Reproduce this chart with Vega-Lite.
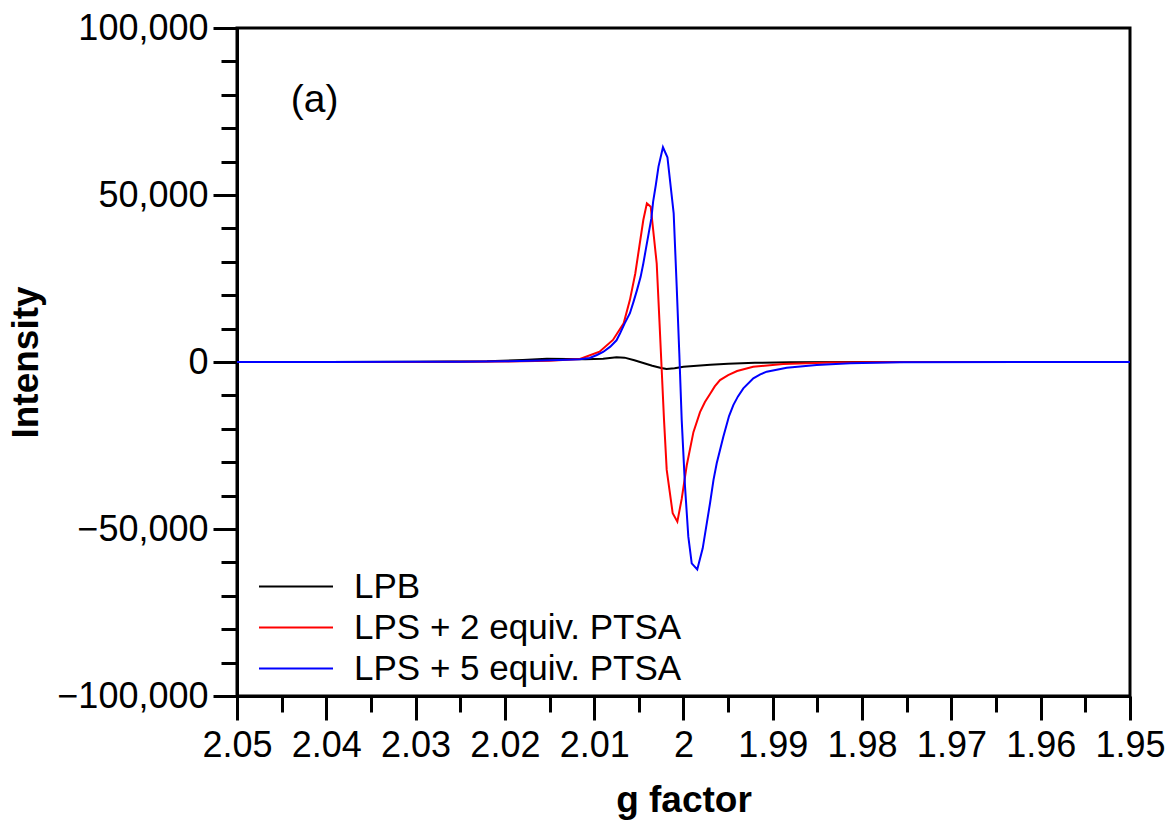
{
  "$schema": "https://vega.github.io/schema/vega-lite/v6.json",
  "width": 893,
  "height": 668,
  "autosize": {"type": "none"},
  "padding": {"left": 237, "top": 28, "right": 40, "bottom": 127},
  "config": {
    "view": {"stroke": "black", "strokeWidth": 3},
    "font": "Liberation Sans",
    "axis": {
      "grid": false,
      "domainColor": "black",
      "domainWidth": 3,
      "tickColor": "black",
      "tickWidth": 3,
      "labelColor": "black",
      "titleColor": "black",
      "labelFont": "Liberation Sans",
      "titleFont": "Liberation Sans",
      "labelFontSize": 36,
      "titleFontSize": 37,
      "titleFontWeight": "bold"
    }
  },
  "datasets": {
    "spectra": [
      {"series": "LPB", "g": 2.05, "intensity": 0},
      {"series": "LPB", "g": 2.04, "intensity": 0},
      {"series": "LPB", "g": 2.03, "intensity": 50},
      {"series": "LPB", "g": 2.022, "intensity": 200},
      {"series": "LPB", "g": 2.018, "intensity": 600},
      {"series": "LPB", "g": 2.0153, "intensity": 1000},
      {"series": "LPB", "g": 2.013, "intensity": 900},
      {"series": "LPB", "g": 2.011, "intensity": 800},
      {"series": "LPB", "g": 2.009, "intensity": 1000},
      {"series": "LPB", "g": 2.0075, "intensity": 1400},
      {"series": "LPB", "g": 2.0066, "intensity": 1300},
      {"series": "LPB", "g": 2.0055, "intensity": 500},
      {"series": "LPB", "g": 2.0045, "intensity": -300},
      {"series": "LPB", "g": 2.0035, "intensity": -1100},
      {"series": "LPB", "g": 2.0025, "intensity": -1800},
      {"series": "LPB", "g": 2.0019, "intensity": -2100},
      {"series": "LPB", "g": 2.001, "intensity": -1900},
      {"series": "LPB", "g": 2.0, "intensity": -1400},
      {"series": "LPB", "g": 1.9985, "intensity": -1100},
      {"series": "LPB", "g": 1.997, "intensity": -800},
      {"series": "LPB", "g": 1.995, "intensity": -500},
      {"series": "LPB", "g": 1.992, "intensity": -250},
      {"series": "LPB", "g": 1.988, "intensity": -100},
      {"series": "LPB", "g": 1.98, "intensity": 0},
      {"series": "LPB", "g": 1.95, "intensity": 0},

      {"series": "LPS + 2 equiv. PTSA", "g": 2.05, "intensity": 0},
      {"series": "LPS + 2 equiv. PTSA", "g": 2.03, "intensity": 30},
      {"series": "LPS + 2 equiv. PTSA", "g": 2.02, "intensity": 150},
      {"series": "LPS + 2 equiv. PTSA", "g": 2.015, "intensity": 350},
      {"series": "LPS + 2 equiv. PTSA", "g": 2.0116, "intensity": 900},
      {"series": "LPS + 2 equiv. PTSA", "g": 2.0094, "intensity": 3100},
      {"series": "LPS + 2 equiv. PTSA", "g": 2.0079, "intensity": 6600},
      {"series": "LPS + 2 equiv. PTSA", "g": 2.0067, "intensity": 11600},
      {"series": "LPS + 2 equiv. PTSA", "g": 2.006, "intensity": 18600},
      {"series": "LPS + 2 equiv. PTSA", "g": 2.0054, "intensity": 26500},
      {"series": "LPS + 2 equiv. PTSA", "g": 2.00495, "intensity": 34500},
      {"series": "LPS + 2 equiv. PTSA", "g": 2.0045, "intensity": 42500},
      {"series": "LPS + 2 equiv. PTSA", "g": 2.0041, "intensity": 47500},
      {"series": "LPS + 2 equiv. PTSA", "g": 2.00367, "intensity": 46500},
      {"series": "LPS + 2 equiv. PTSA", "g": 2.003, "intensity": 29500},
      {"series": "LPS + 2 equiv. PTSA", "g": 2.0027, "intensity": 12600},
      {"series": "LPS + 2 equiv. PTSA", "g": 2.00244, "intensity": -2400},
      {"series": "LPS + 2 equiv. PTSA", "g": 2.00218, "intensity": -17400},
      {"series": "LPS + 2 equiv. PTSA", "g": 2.00188, "intensity": -32300},
      {"series": "LPS + 2 equiv. PTSA", "g": 2.00121, "intensity": -45300},
      {"series": "LPS + 2 equiv. PTSA", "g": 2.00069, "intensity": -47800},
      {"series": "LPS + 2 equiv. PTSA", "g": 2.0002, "intensity": -41000},
      {"series": "LPS + 2 equiv. PTSA", "g": 1.99964, "intensity": -31000},
      {"series": "LPS + 2 equiv. PTSA", "g": 1.99889, "intensity": -21000},
      {"series": "LPS + 2 equiv. PTSA", "g": 1.99815, "intensity": -15000},
      {"series": "LPS + 2 equiv. PTSA", "g": 1.9976, "intensity": -12000},
      {"series": "LPS + 2 equiv. PTSA", "g": 1.99703, "intensity": -9600},
      {"series": "LPS + 2 equiv. PTSA", "g": 1.9965, "intensity": -7300},
      {"series": "LPS + 2 equiv. PTSA", "g": 1.99591, "intensity": -5400},
      {"series": "LPS + 2 equiv. PTSA", "g": 1.995, "intensity": -3900},
      {"series": "LPS + 2 equiv. PTSA", "g": 1.994, "intensity": -2700},
      {"series": "LPS + 2 equiv. PTSA", "g": 1.9922, "intensity": -1400},
      {"series": "LPS + 2 equiv. PTSA", "g": 1.98883, "intensity": -600},
      {"series": "LPS + 2 equiv. PTSA", "g": 1.9835, "intensity": -150},
      {"series": "LPS + 2 equiv. PTSA", "g": 1.975, "intensity": 0},
      {"series": "LPS + 2 equiv. PTSA", "g": 1.95, "intensity": 0},

      {"series": "LPS + 5 equiv. PTSA", "g": 2.05, "intensity": 0},
      {"series": "LPS + 5 equiv. PTSA", "g": 2.04, "intensity": 0},
      {"series": "LPS + 5 equiv. PTSA", "g": 2.03, "intensity": 50},
      {"series": "LPS + 5 equiv. PTSA", "g": 2.025, "intensity": 100},
      {"series": "LPS + 5 equiv. PTSA", "g": 2.02, "intensity": 200},
      {"series": "LPS + 5 equiv. PTSA", "g": 2.017, "intensity": 350},
      {"series": "LPS + 5 equiv. PTSA", "g": 2.015, "intensity": 500},
      {"series": "LPS + 5 equiv. PTSA", "g": 2.013, "intensity": 650},
      {"series": "LPS + 5 equiv. PTSA", "g": 2.0116, "intensity": 800},
      {"series": "LPS + 5 equiv. PTSA", "g": 2.0105, "intensity": 1200},
      {"series": "LPS + 5 equiv. PTSA", "g": 2.0097, "intensity": 2100},
      {"series": "LPS + 5 equiv. PTSA", "g": 2.009, "intensity": 3000},
      {"series": "LPS + 5 equiv. PTSA", "g": 2.0082, "intensity": 4600},
      {"series": "LPS + 5 equiv. PTSA", "g": 2.0075, "intensity": 6500},
      {"series": "LPS + 5 equiv. PTSA", "g": 2.0071, "intensity": 8600},
      {"series": "LPS + 5 equiv. PTSA", "g": 2.0066, "intensity": 11500},
      {"series": "LPS + 5 equiv. PTSA", "g": 2.006, "intensity": 14600},
      {"series": "LPS + 5 equiv. PTSA", "g": 2.0056, "intensity": 18000},
      {"series": "LPS + 5 equiv. PTSA", "g": 2.0052, "intensity": 21600},
      {"series": "LPS + 5 equiv. PTSA", "g": 2.0048, "intensity": 25500},
      {"series": "LPS + 5 equiv. PTSA", "g": 2.0045, "intensity": 29500},
      {"series": "LPS + 5 equiv. PTSA", "g": 2.0042, "intensity": 34000},
      {"series": "LPS + 5 equiv. PTSA", "g": 2.0039, "intensity": 38500},
      {"series": "LPS + 5 equiv. PTSA", "g": 2.0036, "intensity": 43000},
      {"series": "LPS + 5 equiv. PTSA", "g": 2.0034, "intensity": 48000},
      {"series": "LPS + 5 equiv. PTSA", "g": 2.0031, "intensity": 53000},
      {"series": "LPS + 5 equiv. PTSA", "g": 2.0028, "intensity": 58500},
      {"series": "LPS + 5 equiv. PTSA", "g": 2.0023, "intensity": 64300},
      {"series": "LPS + 5 equiv. PTSA", "g": 2.0018, "intensity": 61300},
      {"series": "LPS + 5 equiv. PTSA", "g": 2.0011, "intensity": 44500},
      {"series": "LPS + 5 equiv. PTSA", "g": 2.00076, "intensity": 22500},
      {"series": "LPS + 5 equiv. PTSA", "g": 2.00047, "intensity": 2600},
      {"series": "LPS + 5 equiv. PTSA", "g": 2.0002, "intensity": -17400},
      {"series": "LPS + 5 equiv. PTSA", "g": 1.99983, "intensity": -37300},
      {"series": "LPS + 5 equiv. PTSA", "g": 1.99946, "intensity": -52300},
      {"series": "LPS + 5 equiv. PTSA", "g": 1.99908, "intensity": -60300},
      {"series": "LPS + 5 equiv. PTSA", "g": 1.99846, "intensity": -62100},
      {"series": "LPS + 5 equiv. PTSA", "g": 1.99785, "intensity": -55800},
      {"series": "LPS + 5 equiv. PTSA", "g": 1.99703, "intensity": -42300},
      {"series": "LPS + 5 equiv. PTSA", "g": 1.99664, "intensity": -35300},
      {"series": "LPS + 5 equiv. PTSA", "g": 1.99628, "intensity": -30300},
      {"series": "LPS + 5 equiv. PTSA", "g": 1.99554, "intensity": -22400},
      {"series": "LPS + 5 equiv. PTSA", "g": 1.9949, "intensity": -16200},
      {"series": "LPS + 5 equiv. PTSA", "g": 1.99442, "intensity": -12900},
      {"series": "LPS + 5 equiv. PTSA", "g": 1.9939, "intensity": -10300},
      {"series": "LPS + 5 equiv. PTSA", "g": 1.9933, "intensity": -7900},
      {"series": "LPS + 5 equiv. PTSA", "g": 1.99218, "intensity": -4900},
      {"series": "LPS + 5 equiv. PTSA", "g": 1.9914, "intensity": -3700},
      {"series": "LPS + 5 equiv. PTSA", "g": 1.99068, "intensity": -2900},
      {"series": "LPS + 5 equiv. PTSA", "g": 1.98844, "intensity": -1700},
      {"series": "LPS + 5 equiv. PTSA", "g": 1.98509, "intensity": -900},
      {"series": "LPS + 5 equiv. PTSA", "g": 1.98135, "intensity": -400},
      {"series": "LPS + 5 equiv. PTSA", "g": 1.97576, "intensity": -100},
      {"series": "LPS + 5 equiv. PTSA", "g": 1.96, "intensity": 0},
      {"series": "LPS + 5 equiv. PTSA", "g": 1.95, "intensity": 0}
    ]
  },
  "layer": [
    {
      "data": {"name": "spectra"},
      "mark": {"type": "line", "strokeWidth": 2},
      "encoding": {
        "x": {
          "field": "g",
          "type": "quantitative",
          "scale": {"domain": [1.95, 2.05], "reverse": true, "nice": false, "zero": false},
          "axis": {
            "orient": "bottom",
            "values": [2.05, 2.04, 2.03, 2.02, 2.01, 2.0, 1.99, 1.98, 1.97, 1.96, 1.95],
            "format": ".2~f",
            "tickSize": 24,
            "labelPadding": 8,
            "labelFlush": false,
            "labelOverlap": false,
            "title": "g factor",
            "titlePadding": 19
          }
        },
        "y": {
          "field": "intensity",
          "type": "quantitative",
          "scale": {"domain": [-100000, 100000], "nice": false},
          "axis": {
            "orient": "left",
            "values": [-100000, -50000, 0, 50000, 100000],
            "format": ",.0f",
            "tickSize": 24,
            "labelPadding": 5,
            "labelFlush": false,
            "labelOverlap": false,
            "title": "Intensity",
            "titlePadding": 11
          }
        },
        "color": {
          "field": "series",
          "type": "nominal",
          "scale": {
            "domain": ["LPB", "LPS + 2 equiv. PTSA", "LPS + 5 equiv. PTSA"],
            "range": ["#000000", "#ff0000", "#0000ff"]
          },
          "legend": {
            "orient": "none",
            "legendX": 21,
            "legendY": 538,
            "title": null,
            "padding": 0,
            "symbolType": "stroke",
            "symbolSize": 5476,
            "symbolStrokeWidth": 2,
            "clipHeight": 41,
            "labelFont": "Liberation Sans",
            "labelFontSize": 35,
            "labelColor": "black",
            "labelOffset": 20,
            "rowPadding": 0,
            "labelLimit": 600
          }
        }
      }
    },
    {
      "data": {"name": "spectra"},
      "mark": {"type": "line", "strokeOpacity": 0},
      "encoding": {
        "x": {
          "field": "g",
          "type": "quantitative",
          "axis": {
            "orient": "bottom",
            "values": [2.045, 2.035, 2.025, 2.015, 2.005, 1.995, 1.985, 1.975, 1.965, 1.955],
            "labels": false,
            "domain": false,
            "tickSize": 16,
            "title": null
          }
        },
        "y": {
          "field": "intensity",
          "type": "quantitative",
          "axis": {
            "orient": "left",
            "values": [-90000, -80000, -70000, -60000, -40000, -30000, -20000, -10000, 10000, 20000, 30000, 40000, 60000, 70000, 80000, 90000],
            "labels": false,
            "domain": false,
            "tickSize": 16,
            "title": null
          }
        },
        "detail": {"field": "series"}
      }
    },
    {
      "data": {"values": [{"g": 2.0413, "intensity": 78400, "label": "(a)"}]},
      "mark": {"type": "text", "font": "Liberation Sans", "fontSize": 39, "align": "center", "baseline": "middle", "color": "black"},
      "encoding": {
        "x": {"field": "g", "type": "quantitative", "axis": null},
        "y": {"field": "intensity", "type": "quantitative", "axis": null},
        "text": {"field": "label"}
      }
    }
  ],
  "resolve": {"axis": {"x": "independent", "y": "independent"}}
}
